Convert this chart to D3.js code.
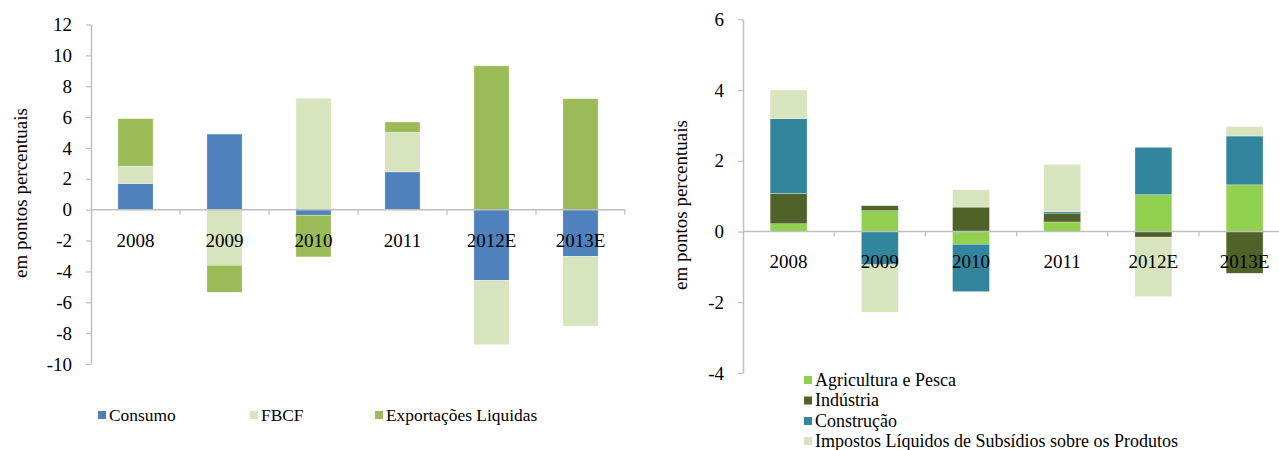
<!DOCTYPE html>
<html>
<head>
<meta charset="utf-8">
<script src="https://cdn.jsdelivr.net/npm/d3@7"></script>
<style>
  body { margin: 0; background: #fff; }
  svg text { font-family: "Liberation Serif", "DejaVu Serif", serif; }
</style>
</head>
<body>
<svg id="chart" width="1279" height="450"></svg>
<script>
// categories shared by both panels
const years = ["2008", "2009", "2010", "2011", "2012E", "2013E"];

// left panel: contributions by expenditure
const demandSeries = ["Consumo", "FBCF", "Exportações Liquidas"];
const consumo = [1.70, 4.90, -0.36, 2.45, -4.58, -3.02];
const fbcf = [1.12, -3.60, 7.22, 2.56, -4.17, -4.52];
const exportacoes = [3.08, -1.75, -2.70, 0.67, 9.32, 7.19];
const leftTicks = [-10, -8, -6, -4, -2, 0, 2, 4, 6, 8, 10, 12];

// right panel: contributions by sector
const sectorSeries = ["Agricultura e Pesca", "Indústria", "Construção",
  "Impostos Líquidos de Subsídios sobre os Produtos"];
const agricultura = [0.22, 0.59, -0.36, 0.27, 1.04, 1.32];
const industria = [0.86, 0.14, 0.69, 0.25, -0.16, -1.18];
const construcao = [2.11, -0.94, -1.34, 0.04, 1.34, 1.38];
const impostos = [0.81, -1.34, 0.49, 1.34, -1.68, 0.26];
const rightTicks = [-4, -2, 0, 2, 4, 6];

const svg = d3.select("#chart");
const axisGrey = "#bfbfbf";
const tickSize = 19;
const serif = "'Liberation Serif', 'DejaVu Serif', serif";

function drawPanel(opt) {
  const rows = years.map((yr, i) => {
    const r = { year: yr };
    opt.keys.forEach((k, j) => r[k] = opt.values[j][i]);
    return r;
  });

  const stack = d3.stack()
    .keys(opt.keys)
    .offset(d3.stackOffsetDiverging);
  const layers = stack(rows);

  const x = d3.scaleBand()
    .domain(years)
    .range([opt.left, opt.left + opt.step * years.length])
    .padding(0);
  const y = d3.scaleLinear()
    .domain(opt.domain)
    .range([opt.bottom, opt.top]);
  const color = d3.scaleOrdinal().domain(opt.keys).range(opt.colors);

  const g = svg.append("g").attr("font-family", serif);
  const barW = x.bandwidth() * opt.barFrac;

  // bars
  g.selectAll("g.layer")
    .data(layers)
    .join("g")
      .attr("class", "layer")
      .attr("fill", d => color(d.key))
    .selectAll("rect")
    .data(d => d)
    .join("rect")
      .attr("x", d => x(d.data.year) + (x.bandwidth() - barW) / 2)
      .attr("width", barW)
      .attr("y", d => y(d[1]))
      .attr("height", d => Math.abs(y(d[0]) - y(d[1])))
      .attr("stroke", "#ffffff")
      .attr("stroke-opacity", 0.5)
      .attr("stroke-width", 0.6);

  // y axis (plain hyphen minus like the original)
  const yAxis = d3.axisLeft(y)
    .tickValues(opt.ticks)
    .tickFormat(d => String(d))
    .tickSize(5)
    .tickSizeOuter(0)
    .tickPadding(14);
  const ya = g.append("g")
    .attr("transform", "translate(" + opt.left + ",0)")
    .call(yAxis)
    .attr("font-family", serif)
    .attr("font-size", tickSize);
  ya.select(".domain").attr("stroke", axisGrey).attr("stroke-width", 1.5);
  ya.selectAll(".tick line").attr("stroke", axisGrey).attr("stroke-width", 1.2);
  ya.selectAll(".tick text").attr("fill", "#000");

  // zero line with category separators
  const y0 = y(0);
  g.append("line")
    .attr("x1", x.range()[0]).attr("x2", x.range()[1])
    .attr("y1", y0).attr("y2", y0)
    .attr("stroke", axisGrey).attr("stroke-width", 1.5);
  g.selectAll("line.sep")
    .data(years)
    .join("line")
      .attr("class", "sep")
      .attr("x1", d => x(d) + x.bandwidth())
      .attr("x2", d => x(d) + x.bandwidth())
      .attr("y1", y0).attr("y2", y0 + 5)
      .attr("stroke", axisGrey).attr("stroke-width", 1.2);

  // category labels
  g.selectAll("text.cat")
    .data(years)
    .join("text")
      .attr("class", "cat")
      .attr("x", d => x(d) + x.bandwidth() / 2)
      .attr("y", y0 + opt.labelOffset)
      .attr("text-anchor", "middle")
      .attr("fill", "#000")
      .attr("font-size", tickSize)
      .text(d => d);

  // y title
  g.append("text")
    .attr("transform", "translate(" + opt.titleX + "," + opt.titleY + ") rotate(-90)")
    .attr("text-anchor", "middle")
    .attr("fill", "#000")
    .attr("font-size", tickSize)
    .text("em pontos percentuais");

  // legend
  const items = g.append("g").selectAll("g")
    .data(opt.keys)
    .join("g")
      .attr("transform", (d, i) => "translate(" + opt.legendPos[i][0] + "," + opt.legendPos[i][1] + ")");
  items.append("rect")
    .attr("x", 0).attr("y", -4)
    .attr("width", 8).attr("height", 8)
    .attr("fill", d => color(d));
  items.append("text")
    .attr("x", 11).attr("y", 0)
    .attr("dy", "0.33em")
    .attr("fill", "#000")
    .attr("font-size", opt.legendSize)
    .text(d => d);
}

drawPanel({
  keys: demandSeries,
  values: [consumo, fbcf, exportacoes],
  colors: ["#4f81bd", "#d7e4bd", "#9bbb59"],
  domain: [-10, 12],
  ticks: leftTicks,
  left: 91, step: 89, top: 24.5, bottom: 364,
  barFrac: 0.395,
  labelOffset: 37,
  titleX: 27, titleY: 193,
  legendSize: 17.4,
  legendPos: [[98, 415], [250, 415], [375, 415]]
});

drawPanel({
  keys: sectorSeries,
  values: [agricultura, industria, construcao, impostos],
  colors: ["#92d050", "#4f6228", "#31859c", "#d7e4bd"],
  domain: [-4, 6],
  ticks: rightTicks,
  left: 743, step: 91.2, top: 19.3, bottom: 373,
  barFrac: 0.405,
  labelOffset: 36.5,
  titleX: 687, titleY: 205,
  legendSize: 18,
  legendPos: [[804, 380], [804, 400.5], [804, 421], [804, 441]]
});
</script>
</body>
</html>
